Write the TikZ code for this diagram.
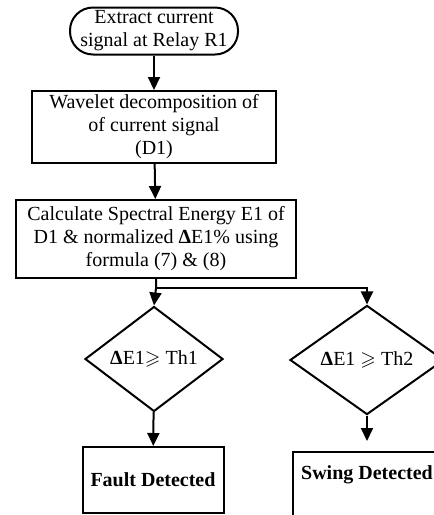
\documentclass[tikz,border=0pt]{standalone}
\usepackage{amssymb}
\usepackage{fontspec}
\setmainfont{Liberation Serif}
\usetikzlibrary{
	arrows.meta,
	shapes.geometric
}

\begin{document}
\begin{tikzpicture}[x=1pt,y=-1pt,
		font=\fontsize{20}{23}\selectfont,
		box/.style={draw, line width=2pt, align=center, inner sep=0pt},
		term/.style={box, rounded corners=23pt},
		decision/.style={draw, diamond, line width=2pt, inner sep=0pt},
		arrow/.style={line width=2pt, -{Triangle[width=12pt,length=13pt]}}]
		
		\useasboundingbox (0,0) rectangle (434,515);
		\clip (0,0) rectangle (434,515);
		
		\node[term, minimum width=168pt, minimum height=47pt] (extract) at (154,31)
		{Extract current\\signal at Relay R1};
		\node[box, minimum width=244pt, minimum height=72pt] (wavelet) at (154,127)
		{Wavelet decomposition of\\of current signal\\(D1)};
		\node[box, minimum width=280pt, minimum height=78pt] (energy) at (156,239)
		{Calculate Spectral Energy E1 of\\D1 \& normalized {\bfseries Δ}E1\% using\\formula (7) \& (8)};
		
		\node[decision, minimum width=138pt, minimum height=105pt] (th1) at (154,359)
		{{\bfseries Δ}E1$\geqslant$ Th1};
		\node[decision, minimum width=154pt, minimum height=106pt] (th2) at (367,360)
		{{\bfseries Δ}E1 $\geqslant$ Th2};
		
		\node[box, minimum width=141pt, minimum height=66pt, font=\fontsize{20}{23}\selectfont\bfseries] (fault) at (153,480)
		{Fault Detected};
		\node[box, minimum width=148pt, minimum height=66pt, text depth=24pt, font=\fontsize{20}{23}\selectfont\bfseries] (swing) at (367,485)
		{Swing Detected};
		
		\coordinate (split) at (energy.south |- 0,288);
		
		\draw[arrow] (extract) -- (wavelet);
		\draw[arrow] (wavelet) -- (energy);
		\draw[arrow] (energy.south) -- (split) -- (th1.north);
		\draw[arrow] (split) -| (th2.north);
		\draw[arrow] (th1) -- (fault);
		\draw[arrow, shorten >=10pt] (th2) -- (swing.north);
		
	\end{tikzpicture}
\end{document}
